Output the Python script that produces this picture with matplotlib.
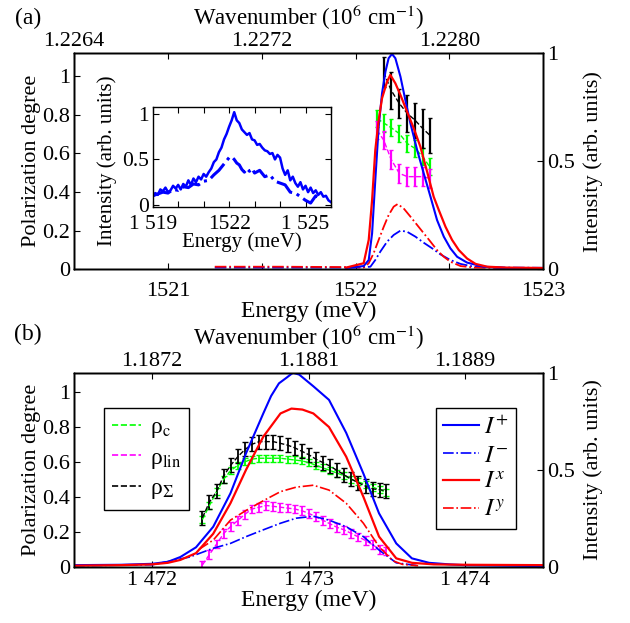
import matplotlib
matplotlib.use('Agg')
import matplotlib.pyplot as plt
from matplotlib.lines import Line2D

plt.rcParams['font.family'] = ['Liberation Serif', 'DejaVu Serif']
plt.rcParams['mathtext.fontset'] = 'stix'
plt.rcParams['font.size'] = 16

# ---------------- Panel (a) data ----------------
# intensities (right axis)
ea_ip = [1521.95, 1522.043, 1522.07, 1522.088, 1522.105, 1522.123, 1522.141, 1522.159, 1522.176,
         1522.194, 1522.212, 1522.239, 1522.265, 1522.292, 1522.328, 1522.363, 1522.399, 1522.434,
         1522.47, 1522.505, 1522.541, 1522.594, 1522.683, 1522.8, 1523.0]
ia_ip = [0.006, 0.015, 0.043, 0.167, 0.413, 0.66, 0.815, 0.915, 0.977,
         0.997, 0.977, 0.892, 0.784, 0.676, 0.552, 0.444, 0.336, 0.228,
         0.151, 0.097, 0.058, 0.031, 0.012, 0.006, 0.005]

ea_ix = [1521.95, 1522.043, 1522.07, 1522.088, 1522.105, 1522.123, 1522.141, 1522.168, 1522.185,
         1522.212, 1522.239, 1522.274, 1522.31, 1522.345, 1522.381, 1522.416, 1522.443, 1522.479,
         1522.514, 1522.55, 1522.594, 1522.639, 1522.701, 1522.8, 1523.0]
ia_ix = [0.008, 0.028, 0.136, 0.321, 0.552, 0.691, 0.792, 0.869, 0.9,
         0.861, 0.807, 0.73, 0.653, 0.568, 0.452, 0.336, 0.275, 0.197,
         0.136, 0.089, 0.05, 0.025, 0.012, 0.008, 0.006]

ea_iy = [1521.25, 1521.6, 1522.0, 1522.043, 1522.07, 1522.096, 1522.123, 1522.15, 1522.176, 1522.203,
         1522.224, 1522.256, 1522.292, 1522.328, 1522.363, 1522.399, 1522.434, 1522.47, 1522.505,
         1522.559, 1522.63, 1522.8, 1523.0]
ia_iy = [0.012, 0.012, 0.01, 0.008, 0.028, 0.074, 0.136, 0.197, 0.251, 0.29,
         0.302, 0.282, 0.244, 0.205, 0.167, 0.128, 0.089, 0.058, 0.035,
         0.015, 0.008, 0.006, 0.005]

ea_im = [1521.25, 1521.6, 1522.0, 1522.079, 1522.105, 1522.132, 1522.168, 1522.203, 1522.239,
         1522.274, 1522.319, 1522.363, 1522.408, 1522.452, 1522.505, 1522.559, 1522.63, 1522.8, 1523.0]
ia_im = [0.008, 0.008, 0.008, 0.012, 0.043, 0.082, 0.128, 0.159, 0.179,
         0.174, 0.151, 0.123, 0.097, 0.069, 0.043, 0.025, 0.012, 0.008, 0.007]

# polarization degrees (left axis)
ea_pol = [1522.114, 1522.15, 1522.189, 1522.233, 1522.276, 1522.317, 1522.358, 1522.395]
pa_c = [0.781, 0.758, 0.734, 0.703, 0.651, 0.626, 0.583, 0.531]
pa_c_err = [0.045, 0.045, 0.045, 0.045, 0.045, 0.045, 0.045, 0.045]
pa_lin = [0.721, 0.669, 0.57, 0.497, 0.48, 0.48, 0.48, 0.471]
pa_lin_err = [0.045, 0.045, 0.05, 0.05, 0.05, 0.05, 0.05, 0.05]
ea_sum = [1522.15, 1522.189, 1522.233, 1522.276, 1522.317, 1522.358, 1522.395]
pa_sum = [1.022, 0.928, 0.859, 0.807, 0.772, 0.729, 0.695]
pa_sum_err = [0.08, 0.095, 0.075, 0.095, 0.09, 0.1, 0.09]

# inset data
ein_solid = [1519.0, 1519.1, 1519.2, 1519.3, 1519.4, 1519.5, 1519.6, 1519.7, 1519.8, 1519.9,
             1520.0, 1520.1, 1520.2, 1520.3, 1520.4, 1520.5, 1520.6, 1520.7, 1520.8, 1520.9,
             1521.0, 1521.1, 1521.2, 1521.3, 1521.4, 1521.5, 1521.6, 1521.7, 1521.8, 1521.9,
             1522.0, 1522.1, 1522.2, 1522.3, 1522.4, 1522.5, 1522.6, 1522.7, 1522.8, 1522.9,
             1523.0, 1523.1, 1523.2, 1523.3, 1523.4, 1523.5, 1523.6, 1523.7, 1523.8, 1523.9,
             1524.0, 1524.1, 1524.2, 1524.3, 1524.4, 1524.5, 1524.6, 1524.7, 1524.8, 1524.9,
             1525.0, 1525.1, 1525.2, 1525.3, 1525.4, 1525.5, 1525.6, 1525.7, 1525.8, 1525.9, 1526.0]
iin_solid = [0.09, 0.13, 0.11, 0.17, 0.15, 0.19, 0.14, 0.16, 0.21, 0.18,
             0.22, 0.17, 0.23, 0.20, 0.27, 0.22, 0.29, 0.25, 0.31, 0.28,
             0.34, 0.31, 0.36, 0.40, 0.47, 0.50, 0.58, 0.63, 0.72, 0.78,
             0.86, 0.93, 1.02, 0.93, 0.90, 0.83, 0.80, 0.77, 0.79, 0.72,
             0.71, 0.66, 0.67, 0.63, 0.60, 0.59, 0.56, 0.57, 0.50, 0.55,
             0.52, 0.40, 0.33, 0.38, 0.27, 0.31, 0.24, 0.20, 0.25, 0.17,
             0.21, 0.14, 0.19, 0.13, 0.16, 0.11, 0.14, 0.09, 0.10, 0.05, 0.03]
ein_dash = [1519.0, 1519.2, 1519.4, 1519.6, 1519.8, 1520.0, 1520.2, 1520.4, 1520.6, 1520.8,
            1521.0, 1521.2, 1521.4, 1521.6, 1521.8, 1522.0, 1522.1, 1522.2, 1522.3, 1522.4,
            1522.5, 1522.6, 1522.7, 1522.8, 1522.9, 1523.0, 1523.2, 1523.4, 1523.6, 1523.8,
            1524.0, 1524.2, 1524.4, 1524.6, 1524.8, 1525.0, 1525.2, 1525.4, 1525.6]
iin_dash = [0.10, 0.12, 0.14, 0.13, 0.17, 0.16, 0.20, 0.19, 0.23, 0.22,
            0.26, 0.27, 0.33, 0.38, 0.45, 0.52, 0.53, 0.50, 0.46, 0.44,
            0.39, 0.36, 0.40, 0.37, 0.40, 0.35, 0.38, 0.31, 0.33, 0.26,
            0.24, 0.22, 0.14, 0.13, 0.09, 0.05, 0.02, 0.10, 0.05]

# ---------------- Panel (b) data ----------------
eb_ip = [1471.5, 1471.8, 1472.0, 1472.1, 1472.18, 1472.28, 1472.39, 1472.5, 1472.6, 1472.71, 1472.76,
         1472.81, 1472.86, 1472.9, 1472.94, 1473.03, 1473.13, 1473.24, 1473.35, 1473.45, 1473.56,
         1473.66, 1473.77, 1473.9, 1474.0, 1474.5]
ib_ip = [0.008, 0.01, 0.015, 0.025, 0.05, 0.10, 0.206, 0.378, 0.585, 0.79, 0.88,
         0.945, 0.975, 1.0, 0.99, 0.93, 0.86, 0.69, 0.48, 0.275, 0.12,
         0.043, 0.02, 0.012, 0.008, 0.003]
eb_ix = [1471.5, 1471.8, 1472.0, 1472.1, 1472.18, 1472.28, 1472.39, 1472.5, 1472.6, 1472.71, 1472.82,
         1472.89, 1472.96, 1473.03, 1473.13, 1473.24, 1473.35, 1473.45, 1473.56, 1473.66, 1473.8,
         1474.0, 1474.5]
ib_ix = [0.005, 0.008, 0.012, 0.02, 0.035, 0.07, 0.17, 0.327, 0.5, 0.67, 0.79,
         0.815, 0.81, 0.79, 0.72, 0.567, 0.36, 0.155, 0.043, 0.02, 0.012,
         0.01, 0.008]
eb_iy = [1472.3, 1472.39, 1472.5, 1472.6, 1472.71, 1472.82, 1472.92, 1473.03, 1473.13, 1473.24,
         1473.35, 1473.45, 1473.54, 1473.6, 1473.7]
ib_iy = [0.09, 0.137, 0.24, 0.29, 0.34, 0.387, 0.41, 0.42, 0.395, 0.327,
         0.224, 0.103, 0.03, 0.012, 0.005]
eb_im = [1471.5, 1472.0, 1472.24, 1472.39, 1472.5, 1472.6, 1472.71, 1472.82, 1472.92, 1473.03,
         1473.13, 1473.24, 1473.35, 1473.45, 1473.56, 1473.7]
ib_im = [0.005, 0.01, 0.05, 0.095, 0.12, 0.155, 0.19, 0.224, 0.25, 0.26,
         0.24, 0.206, 0.155, 0.086, 0.02, 0.005]

eb_pol = [1472.321, 1472.366, 1472.412, 1472.457, 1472.502, 1472.548, 1472.593, 1472.638, 1472.684,
          1472.729, 1472.774, 1472.820, 1472.865, 1472.910, 1472.956, 1473.001, 1473.046, 1473.092,
          1473.137, 1473.182, 1473.228, 1473.273, 1473.318, 1473.364, 1473.409, 1473.454, 1473.495]
pb_c = [0.27, 0.35, 0.43, 0.50, 0.55, 0.58, 0.60, 0.615, 0.62, 0.62, 0.62, 0.62, 0.615, 0.61,
        0.605, 0.595, 0.58, 0.565, 0.55, 0.535, 0.52, 0.50, 0.485, 0.47, 0.455, 0.44, 0.425]
pb_lin = [0.01, 0.07, 0.13, 0.19, 0.23, 0.265, 0.30, 0.33, 0.34, 0.35, 0.345, 0.34, 0.335, 0.33,
          0.32, 0.305, 0.285, 0.265, 0.245, 0.225, 0.21, 0.19, 0.17, 0.15, 0.125, 0.10, 0.09]
pb_sum = [0.28, 0.37, 0.43, 0.52, 0.58, 0.63, 0.67, 0.70, 0.715, 0.715, 0.715, 0.705, 0.695, 0.68,
          0.66, 0.64, 0.615, 0.595, 0.575, 0.55, 0.525, 0.50, 0.48, 0.46, 0.445, 0.44, 0.435]
pb_c_err = 0.02
pb_lin_err = 0.025
pb_sum_err = 0.04

# tick labels
a_xticks = [1521, 1521.5, 1522, 1522.5, 1523]
a_xticklabels = ['1521', '', '1522', '', '1523']
a_topticks = [1520.5, 1521, 1521.5, 1522, 1522.5]
a_toplabels = ['1.2264', '', '1.2272', '', '1.2280']
in_xticks = [1519, 1520, 1521, 1522, 1523, 1524, 1525, 1526]
in_xticklabels = ['1 519', '', '', '1522', '', '', '1 525', '']
b_xticks = [1472, 1473, 1474]
b_xticklabels = ['1 472', '1 473', '1 474']
b_toplabels = ['1.1872', '1.1881', '1.1889']
pol_ticks = [0, 0.2, 0.4, 0.6, 0.8, 1]
pol_labels = ['0', '0.2', '0.4', '0.6', '0.8', '1']
int_ticks = [0, 0.5, 1]
int_labels = ['0', '0.5', '1']

# ---------------- figure ----------------
W, H = 630, 623
fig = plt.figure(figsize=(6.3, 6.23), dpi=100)


def rect(l, t, r, b):
    return [l / W, 1 - b / H, (r - l) / W, (b - t) / H]


BLUE = '#0000ff'
RED = '#ff0000'
GREEN = '#00ff00'
MAG = '#ff00ff'
XLAB = 17
YLAB = 16
TOPLAB = 16.5


def style(ax, ls=16):
    ax.tick_params(direction='in', length=4, width=0.8, labelsize=ls, pad=3)
    for s in ax.spines.values():
        s.set_linewidth(1.0)


# ---- panel a ----
axa = fig.add_axes(rect(74, 53.3, 543.3, 269.3))
axa.set_xlim(1520.5, 1523)
axa.set_ylim(0, 1.119)
axa.set_xticks(a_xticks)
axa.set_xticklabels(a_xticklabels)
axa.set_yticks(pol_ticks)
axa.set_yticklabels(pol_labels)
axa.set_ylabel('Polarization degree', fontsize=YLAB, labelpad=1)
style(axa)
axa.tick_params(top=False, right=False)
axa.tick_params(axis='x', pad=9)
axa.set_xlabel('Energy (meV)', fontsize=XLAB, labelpad=0)

axa.errorbar(ea_pol, pa_c, yerr=pa_c_err, fmt='--', color=GREEN, lw=1.0, elinewidth=1.6, capsize=1.5)
axa.errorbar(ea_pol, pa_lin, yerr=pa_lin_err, fmt='--', color=MAG, lw=1.0, elinewidth=1.6, capsize=1.5)
axa.errorbar(ea_sum, pa_sum, yerr=pa_sum_err, fmt='--', color='k', lw=1.0, elinewidth=1.6, capsize=1.5)

axa_r = axa.twinx()
axa_r.set_ylim(0, 1)
axa_r.set_yticks(int_ticks)
axa_r.set_yticklabels(int_labels)
axa_r.set_ylabel('Intensity (arb. units)', fontsize=YLAB, labelpad=6)
style(axa_r)
axa_r.plot(ea_im, ia_im, '-.', color=BLUE, lw=1.3)
axa_r.plot(ea_iy, ia_iy, '-.', color=RED, lw=1.3)
axa_r.plot(ea_ip, ia_ip, '-', color=BLUE, lw=1.5)
axa_r.plot(ea_ix, ia_ix, '-', color=RED, lw=1.6)

axa_t = axa.twiny()
axa_t.set_xlim(1520.5, 1523)
axa_t.set_xticks(a_topticks)
axa_t.set_xticklabels(a_toplabels)
axa_t.set_xlabel('Wavenumber (10$^{6}$ cm$^{-1}$)', fontsize=TOPLAB, labelpad=5)
style(axa_t)
axa_t.tick_params(pad=1.5)

# inset
axi = fig.add_axes(rect(152.7, 106.7, 331, 206.7))
axi.set_xlim(1519, 1526)
axi.set_ylim(-0.02, 1.08)
axi.set_xticks(in_xticks)
axi.set_xticklabels(in_xticklabels)
axi.set_yticks(int_ticks)
axi.set_yticklabels(int_labels)
axi.plot(ein_dash, iin_dash, '-.', color=BLUE, lw=2.2)
axi.plot(ein_solid, iin_solid, '-', color=BLUE, lw=1.8)
axi.set_xlabel('Energy (meV)', fontsize=15, labelpad=-1)
axi.set_ylabel('Intensity (arb. units)', fontsize=15)
style(axi, ls=15.5)
axi.tick_params(top=True, right=True)
axi.tick_params(axis='x', pad=6)
axi.yaxis.set_label_coords(-0.2, 0.46)

# ---- panel b ----
axb = fig.add_axes(rect(74, 372.7, 543.3, 566.7))
axb.set_xlim(1471.5, 1474.5)
axb.set_ylim(0, 1.109)
axb.set_xticks(b_xticks)
axb.set_xticklabels(b_xticklabels)
axb.set_yticks(pol_ticks)
axb.set_yticklabels(pol_labels)
axb.set_xlabel('Energy (meV)', fontsize=XLAB, labelpad=0)
axb.set_ylabel('Polarization degree', fontsize=YLAB, labelpad=1)
style(axb)
axb.tick_params(top=False, right=False)

axb.errorbar(eb_pol, pb_c, yerr=pb_c_err, fmt='--', color=GREEN, lw=1.0, elinewidth=1.3, capsize=2.5)
axb.errorbar(eb_pol, pb_lin, yerr=pb_lin_err, fmt='--', color=MAG, lw=1.0, elinewidth=1.3, capsize=2.5)
axb.errorbar(eb_pol, pb_sum, yerr=pb_sum_err, fmt='--', color='k', lw=1.0, elinewidth=1.3, capsize=2.5)

leg_handles_l = [Line2D([], [], ls='--', color=GREEN, lw=1.2),
                 Line2D([], [], ls='--', color=MAG, lw=1.2),
                 Line2D([], [], ls='--', color='k', lw=1.2)]
leg_l = axb.legend(leg_handles_l, ['ρ$_{\\mathrm{c}}$', 'ρ$_{\\mathrm{lin}}$', 'ρ$_{\\Sigma}$'],
                   loc='upper left', bbox_to_anchor=(0.063, 0.8165), borderaxespad=0,
                   fancybox=False, edgecolor='k', framealpha=1, fontsize=17,
                   handlelength=1.25, labelspacing=0.3, borderpad=0.35, handletextpad=0.35)
leg_l.get_frame().set_linewidth(1.0)

axb_r = axb.twinx()
axb_r.set_ylim(0, 1)
axb_r.set_yticks(int_ticks)
axb_r.set_yticklabels(int_labels)
axb_r.set_ylabel('Intensity (arb. units)', fontsize=YLAB, labelpad=6)
style(axb_r)
l1, = axb_r.plot(eb_ip, ib_ip, '-', color=BLUE, lw=1.5)
l2, = axb_r.plot(eb_im, ib_im, '-.', color=BLUE, lw=1.2)
l3, = axb_r.plot(eb_ix, ib_ix, '-', color=RED, lw=1.6)
l4, = axb_r.plot(eb_iy, ib_iy, '-.', color=RED, lw=1.2)
leg_r = axb_r.legend([l1, l2, l3, l4], ['$I^{+}$', '$I^{-}$', '$I^{x}$', '$I^{y}$'],
                     loc='upper right', bbox_to_anchor=(0.942, 0.8165), borderaxespad=0,
                     fancybox=False, edgecolor='k', framealpha=1, fontsize=18,
                     handlelength=1.45, labelspacing=0.2, borderpad=0.3, handletextpad=0.2)
leg_r.get_frame().set_linewidth(1.0)

axb_t = axb.twiny()
axb_t.set_xlim(1471.5, 1474.5)
axb_t.set_xticks(b_xticks)
axb_t.set_xticklabels(b_toplabels)
axb_t.set_xlabel('Wavenumber (10$^{6}$ cm$^{-1}$)', fontsize=TOPLAB, labelpad=5)
style(axb_t)
axb_t.tick_params(pad=1.5)

fig.text(28 / W, 1 - 18 / H, '(a)', ha='center', va='center', fontsize=17)
fig.text(28 / W, 1 - 334 / H, '(b)', ha='center', va='center', fontsize=17)

fig.savefig('out.png', dpi=100)
